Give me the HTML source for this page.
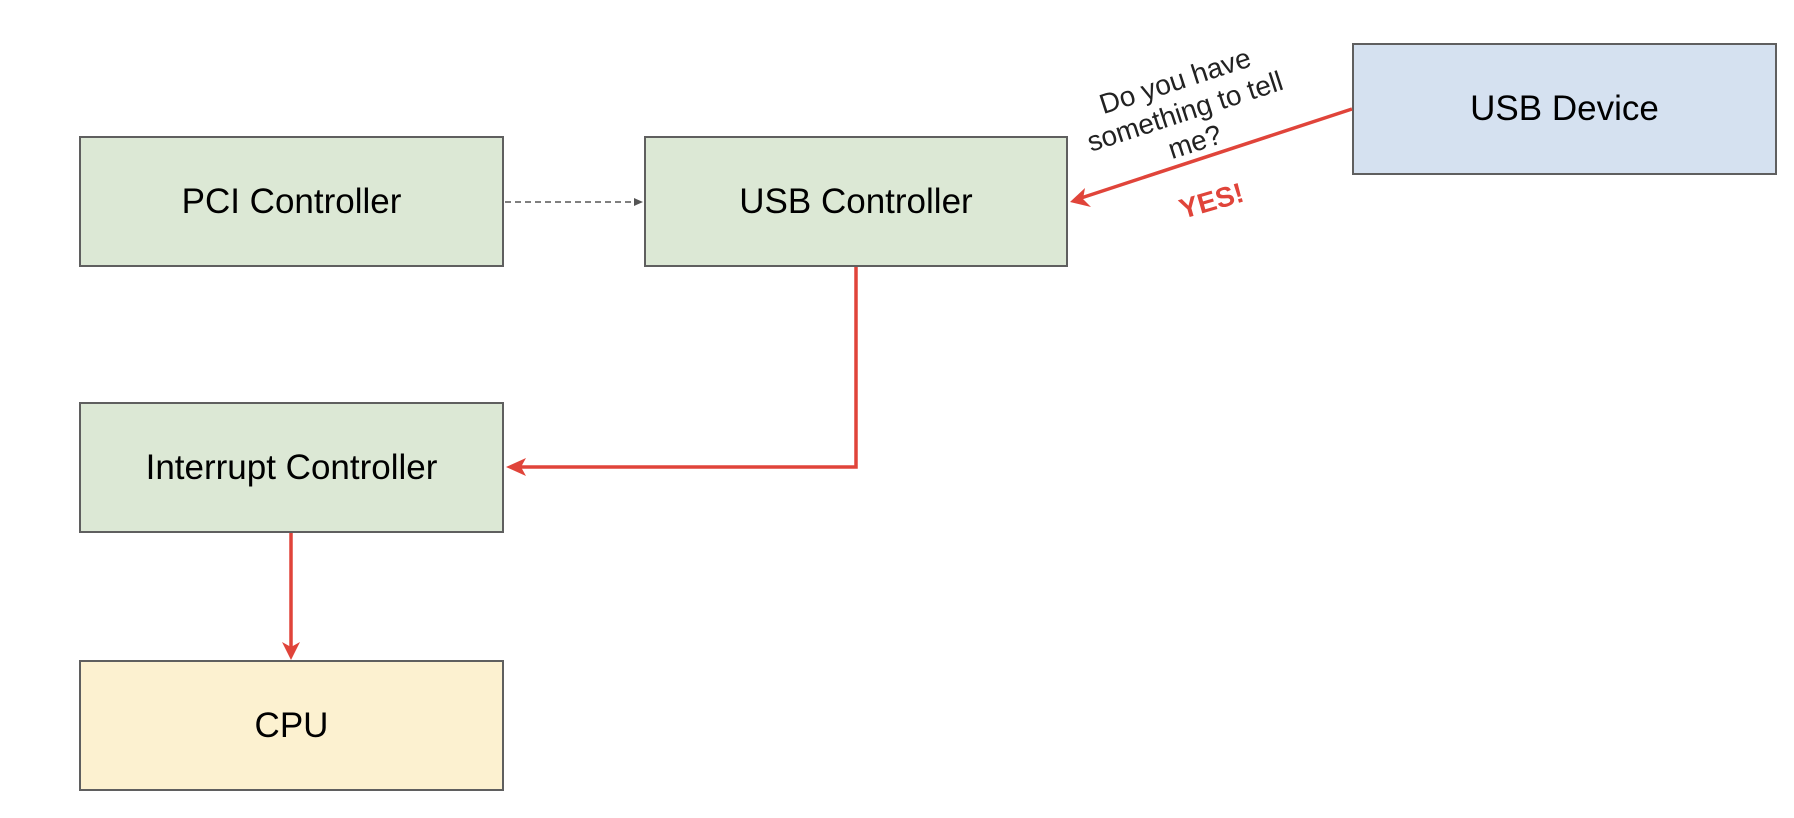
<!DOCTYPE html>
<html><head><style>
body{margin:0;width:1794px;height:818px;background:#fff;overflow:hidden;position:relative;font-family:"Liberation Sans",sans-serif}
.b{position:absolute;box-sizing:border-box;border:2px solid #5f5f5f;display:flex;align-items:center;justify-content:center;font-size:35px;color:#000}
.g{background:#dce8d5}
</style></head><body>
<div class="b g" style="left:79px;top:136px;width:425px;height:131px">PCI Controller</div>
<div class="b g" style="left:644px;top:136px;width:424px;height:131px">USB Controller</div>
<div class="b g" style="left:79px;top:402px;width:425px;height:131px">Interrupt Controller</div>
<div class="b" style="left:79px;top:660px;width:425px;height:131px;background:#fcf1d0">CPU</div>
<div class="b" style="left:1352px;top:43px;width:425px;height:132px;background:#d5e1f0">USB Device</div>
<svg width="1794" height="818" style="position:absolute;left:0;top:0">
<line x1="505" y1="202" x2="637" y2="202" stroke="#555" stroke-width="1.5" stroke-dasharray="6,4"/>
<path d="M634,198 L643,202 L634,206 Z" fill="#555"/>
<polyline points="856,267 856,467 512,467" fill="none" stroke="#e0443a" stroke-width="3.5"/>
<path d="M506,467 L526,458 L521,467 L526,476 Z" fill="#e0443a"/>
<line x1="291" y1="533" x2="291" y2="652" stroke="#e0443a" stroke-width="3.5"/>
<path d="M291,660 L282,642 L291,647 L300,642 Z" fill="#e0443a"/>
<line x1="1352" y1="109" x2="1078" y2="199" stroke="#e0443a" stroke-width="3.5"/>
<path d="M1070,202 L1085,188 L1083,199 L1091,207 Z" fill="#e0443a"/>
<text transform="translate(1178,90) rotate(-18)" font-family="Liberation Sans,sans-serif" font-size="28" text-anchor="middle" fill="#222"><tspan x="0" y="0">Do you have</tspan><tspan x="0" y="32">something to tell</tspan><tspan x="0" y="64">me?</tspan></text>
<text transform="translate(1214,210) rotate(-16)" font-family="Liberation Sans,sans-serif" font-size="28" font-weight="bold" text-anchor="middle" fill="#e0443a">YES!</text>
</svg>
</body></html>
